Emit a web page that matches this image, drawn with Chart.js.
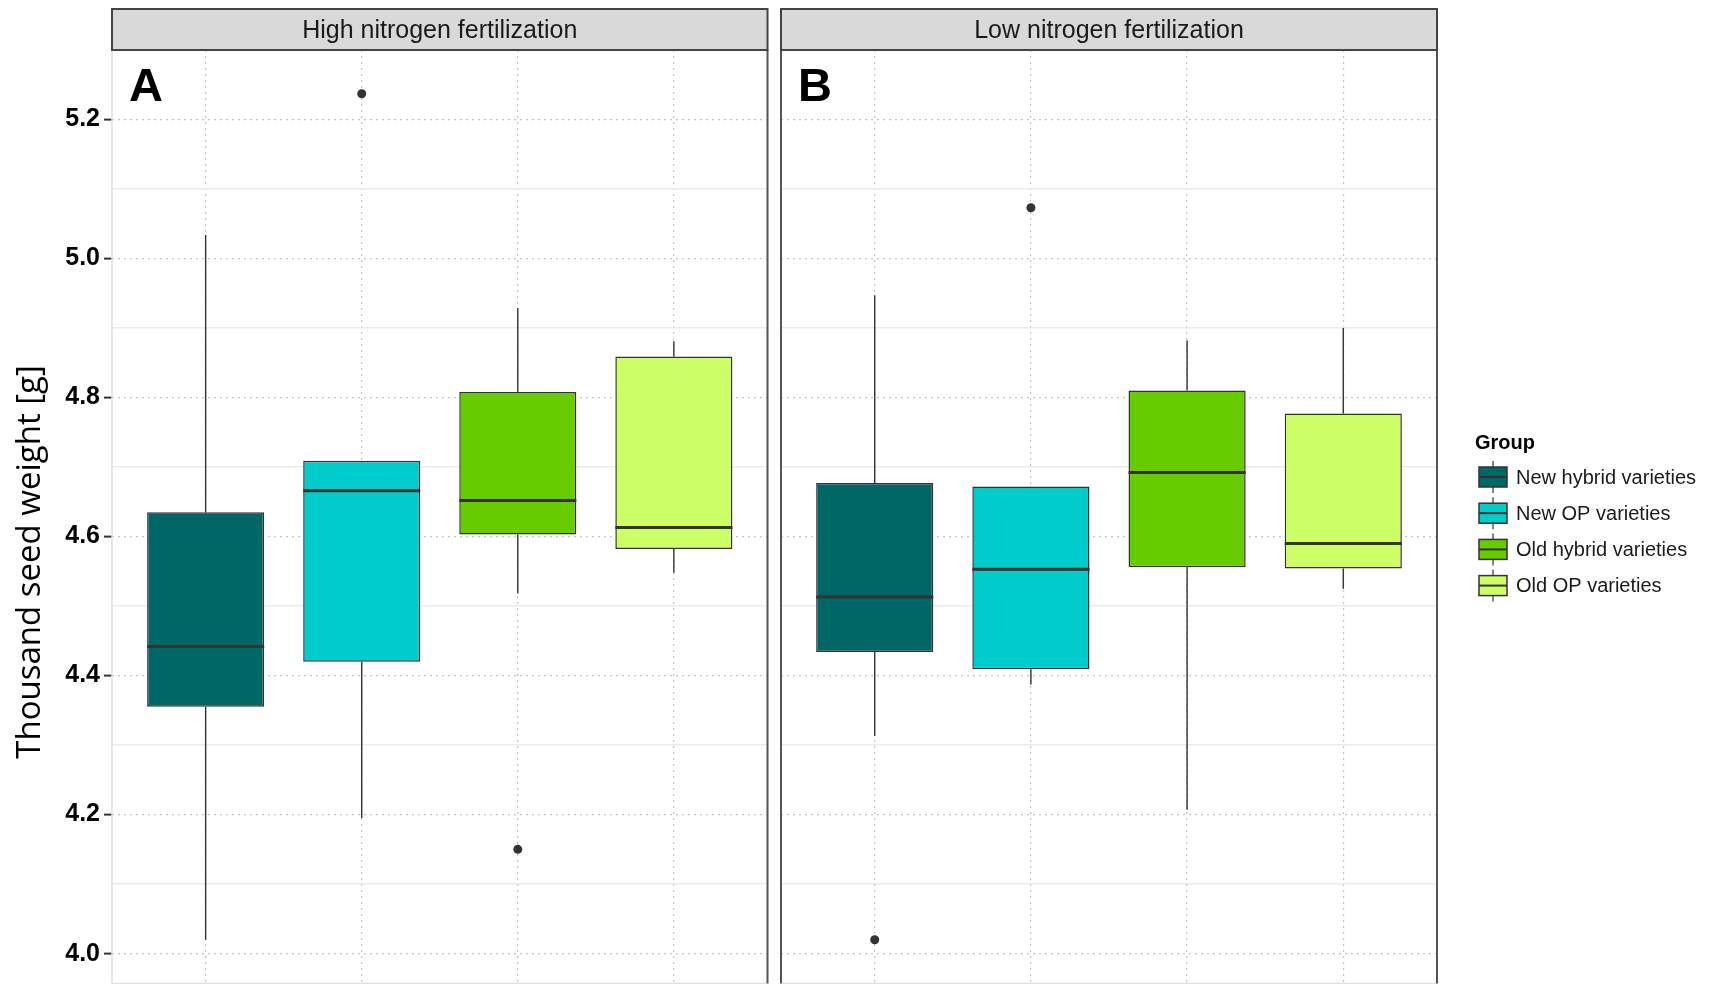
<!DOCTYPE html>
<html>
<head>
<meta charset="utf-8">
<script src="https://cdn.jsdelivr.net/npm/chart.js@4.4.0/dist/chart.umd.min.js"></script>
<style>
    html, body { margin: 0; padding: 0; background: #fff; }
    body { width: 1715px; height: 984px; position: relative; overflow: hidden; }
    #wrapA { position: absolute; left: 0; top: 0; width: 772px; height: 988px; }
    #wrapB { position: absolute; left: 772px; top: 0; width: 943px; height: 988px; }
</style>
</head>
<body>
<div id="wrapA"><canvas id="chartA"></canvas></div>
<div id="wrapB"><canvas id="chartB"></canvas></div>
<script>
const groups = ['New hybrid varieties', 'New OP varieties', 'Old hybrid varieties', 'Old OP varieties'];
const groupColors = ['#006666', '#00CCCC', '#66CC00', '#CCFF66'];
const yTicks = [4.0, 4.1, 4.2, 4.3, 4.4, 4.5, 4.6, 4.7, 4.8, 4.9, 5.0, 5.1, 5.2];

// High nitrogen fertilization (panel A)
const highLower = [4.020, 4.195, 4.518, 4.548];
const highQ1 = [4.355, 4.420, 4.603, 4.582];
const highMedian = [4.442, 4.666, 4.652, 4.613];
const highQ3 = [4.635, 4.709, 4.808, 4.859];
const highUpper = [5.034, 4.709, 4.929, 4.881];
const highOutliers = [[], [5.237], [4.150], []];

// Low nitrogen fertilization (panel B)
const lowLower = [4.313, 4.387, 4.207, 4.525];
const lowQ1 = [4.434, 4.409, 4.556, 4.554];
const lowMedian = [4.513, 4.553, 4.692, 4.590];
const lowQ3 = [4.677, 4.672, 4.810, 4.777];
const lowUpper = [4.947, 4.672, 4.882, 4.900];
const lowOutliers = [[4.020], [5.073], [], []];

Chart.defaults.font.family = "'Liberation Sans', Arial, sans-serif";

const isMajor = v => Math.round(v * 10) % 2 === 0;

function drawLegend(ctx, offsetX) {
    ctx.save();
    ctx.fillStyle = '#000';
    ctx.font = "bold 20px 'Liberation Sans', Arial, sans-serif";
    ctx.textBaseline = 'alphabetic';
    ctx.textAlign = 'left';
    ctx.fillText('Group', 1475 - offsetX, 449);
    groups.forEach((g, i) => {
        const cy = 477 + i * 36.2;
        const x0 = 1479 - offsetX, w = 28, h = 20;
        ctx.strokeStyle = '#333';
        ctx.lineWidth = 1.2;
        ctx.beginPath();
        ctx.moveTo(x0 + w / 2, cy - 16); ctx.lineTo(x0 + w / 2, cy + 16);
        ctx.stroke();
        ctx.fillStyle = groupColors[i];
        ctx.fillRect(x0, cy - h / 2, w, h);
        ctx.lineWidth = 1.5;
        ctx.strokeRect(x0, cy - h / 2, w, h);
        ctx.lineWidth = 2;
        ctx.beginPath();
        ctx.moveTo(x0, cy); ctx.lineTo(x0 + w, cy);
        ctx.stroke();
        ctx.fillStyle = '#1a1a1a';
        ctx.font = "20px 'Liberation Sans', Arial, sans-serif";
        ctx.textBaseline = 'middle';
        ctx.fillText(g, 1516 - offsetX, cy + 1);
    });
    ctx.restore();
}

function buildPanel(canvasId, p) {
    const boxData = groups.map((g, i) => ({ x: i + 1, y: [p.q1[i], p.q3[i]] }));
    const outData = [];
    p.outliers.forEach((arr, i) => arr.forEach(v => outData.push({ x: i + 1, y: v })));

    const boxExtras = {
        id: 'boxExtras',
        beforeDatasetsDraw(chart) {
            const { ctx, scales: { x, y } } = chart;
            ctx.save();
            ctx.strokeStyle = '#333';
            ctx.lineWidth = 1.4;
            groups.forEach((g, i) => {
                const px = x.getPixelForValue(i + 1);
                ctx.beginPath();
                ctx.moveTo(px, y.getPixelForValue(p.lower[i]));
                ctx.lineTo(px, y.getPixelForValue(p.q1[i]));
                ctx.moveTo(px, y.getPixelForValue(p.q3[i]));
                ctx.lineTo(px, y.getPixelForValue(p.upper[i]));
                ctx.stroke();
            });
            ctx.restore();
        },
        afterDatasetsDraw(chart) {
            const { ctx, scales: { y } } = chart;
            const meta = chart.getDatasetMeta(1);
            ctx.save();
            ctx.strokeStyle = '#333';
            ctx.lineWidth = 3;
            groups.forEach((g, i) => {
                const bar = meta.data[i];
                const py = y.getPixelForValue(p.median[i]);
                ctx.beginPath();
                ctx.moveTo(bar.x - bar.width / 2, py);
                ctx.lineTo(bar.x + bar.width / 2, py);
                ctx.stroke();
            });
            ctx.restore();
        },
        afterDraw(chart) {
            const { ctx, chartArea: a } = chart;
            ctx.save();
            // panel border
            ctx.lineWidth = 1.5;
            ctx.strokeStyle = '#e0e0e0';
            ctx.beginPath();
            ctx.moveTo(a.left, a.bottom); ctx.lineTo(a.right, a.bottom);
            if (!p.darkLeft) { ctx.moveTo(a.left, a.top); ctx.lineTo(a.left, a.bottom); }
            ctx.stroke();
            ctx.strokeStyle = '#555';
            ctx.lineWidth = 2;
            ctx.beginPath();
            ctx.moveTo(a.right, a.top); ctx.lineTo(a.right, a.bottom);
            if (p.darkLeft) { ctx.moveTo(a.left, a.top); ctx.lineTo(a.left, a.bottom); }
            ctx.stroke();
            // strip
            ctx.fillStyle = '#d9d9d9';
            ctx.fillRect(a.left, 9, a.right - a.left, a.top - 9);
            ctx.strokeStyle = '#444';
            ctx.lineWidth = 2;
            ctx.strokeRect(a.left, 9, a.right - a.left, a.top - 9);
            ctx.fillStyle = '#1a1a1a';
            ctx.font = "25px 'Liberation Sans', Arial, sans-serif";
            ctx.textAlign = 'center';
            ctx.textBaseline = 'middle';
            ctx.fillText(p.strip, (a.left + a.right) / 2, 31);
            // panel letter
            ctx.fillStyle = '#000';
            ctx.font = "bold 47px 'Liberation Sans', Arial, sans-serif";
            ctx.textAlign = 'left';
            ctx.textBaseline = 'alphabetic';
            ctx.fillText(p.letter, a.left + 17, 101);
            if (p.yTitle) {
                ctx.translate(31, 562);
                ctx.rotate(-Math.PI / 2);
                ctx.font = "33px 'Open Sans', sans-serif";
                ctx.textAlign = 'center';
                ctx.textBaseline = 'middle';
                ctx.fillText(p.yTitle, 0, 0);
            }
            ctx.restore();
            if (p.legend) drawLegend(ctx, p.offsetX);
        }
    };

    return new Chart(document.getElementById(canvasId), {
        type: 'bar',
        data: {
            datasets: [
                {
                    type: 'scatter',
                    label: 'outliers',
                    data: outData,
                    pointRadius: 4.5,
                    pointBackgroundColor: '#333',
                    pointBorderWidth: 0,
                    order: 0
                },
                {
                    label: 'boxes',
                    data: boxData,
                    backgroundColor: groupColors,
                    borderColor: '#333',
                    borderWidth: 1.5,
                    borderSkipped: false,
                    barPercentage: 0.75,
                    categoryPercentage: 1,
                    grouped: false,
                    order: 1
                }
            ]
        },
        options: {
            responsive: true,
            maintainAspectRatio: false,
            animation: false,
            layout: { padding: p.padding },
            plugins: { legend: { display: false }, tooltip: { enabled: false } },
            scales: {
                x: {
                    type: 'linear',
                    min: 0.4,
                    max: 4.6,
                    offset: false,
                    afterBuildTicks: s => { s.ticks = groups.map((g, i) => ({ value: i + 1 })); },
                    afterFit: s => { s.height = 0; s.paddingLeft = 0; s.paddingRight = 0; },
                    grid: { color: '#c4c4c4', lineWidth: 1.2, drawTicks: false, offset: false },
                    border: { display: false, dash: [2, 4] },
                    ticks: { display: false }
                },
                y: {
                    min: 3.957,
                    max: 5.300,
                    afterBuildTicks: s => { s.ticks = yTicks.map(v => ({ value: v })); },
                    afterFit: s => { s.width = p.axisWidth; s.paddingTop = 0; s.paddingBottom = 0; },
                    grid: {
                        color: c => isMajor(c.tick.value) ? '#c4c4c4' : '#ebebeb',
                        lineWidth: c => isMajor(c.tick.value) ? 1.2 : 1.6,
                        drawTicks: p.showAxis,
                        tickColor: c => isMajor(c.tick.value) ? '#333' : 'rgba(0,0,0,0)',
                        tickLength: 8,
                        tickWidth: 2
                    },
                    border: { display: false, dash: c => isMajor(c.tick.value) ? [2, 4] : [] },
                    ticks: {
                        display: p.showAxis,
                        autoSkip: false,
                        padding: 4,
                        color: '#000',
                        font: { size: 25, weight: 'bold' },
                        callback: v => isMajor(v) ? v.toFixed(1) : ''
                    }
                }
            }
        },
        plugins: [boxExtras]
    });
}

buildPanel('chartA', {
    lower: highLower, q1: highQ1, median: highMedian, q3: highQ3, upper: highUpper, outliers: highOutliers,
    padding: { left: 0, right: 4, top: 50, bottom: 1 },
    axisWidth: 112, showAxis: true, darkLeft: false,
    strip: 'High nitrogen fertilization', letter: 'A',
    yTitle: 'Thousand seed weight [g]', legend: false, offsetX: 0
});

buildPanel('chartB', {
    lower: lowLower, q1: lowQ1, median: lowMedian, q3: lowQ3, upper: lowUpper, outliers: lowOutliers,
    padding: { left: 9, right: 278, top: 50, bottom: 1 },
    axisWidth: 0, showAxis: false, darkLeft: true,
    strip: 'Low nitrogen fertilization', letter: 'B',
    yTitle: null, legend: true, offsetX: 772
});
</script>
</body>
</html>
